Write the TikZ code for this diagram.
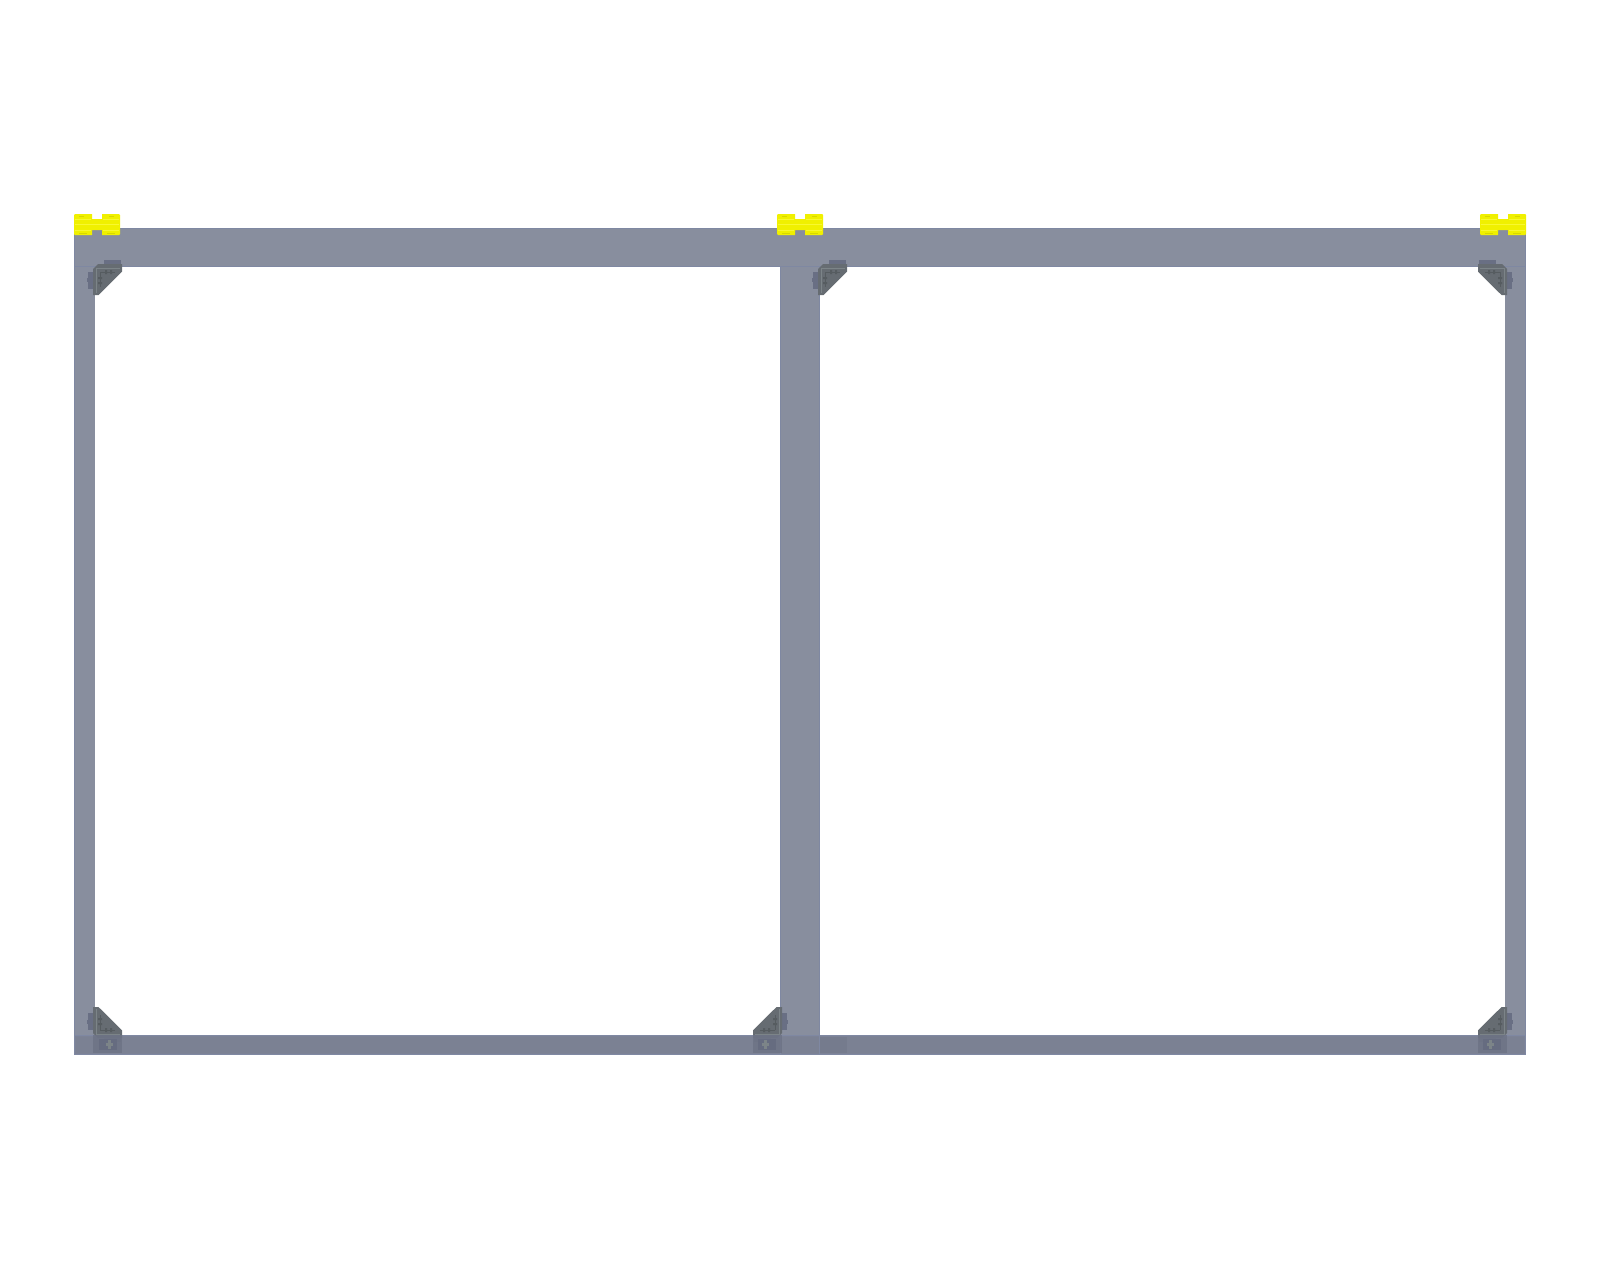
\documentclass[tikz,border=0pt]{standalone}
\definecolor{barfill}{HTML}{888E9E}
\definecolor{baredge}{HTML}{7F88A2}
\definecolor{lowbar}{HTML}{7C8296}
\definecolor{lowin}{HTML}{7B8193}
\definecolor{gusset}{HTML}{666C72}
\definecolor{gussetb}{HTML}{696F84}
\definecolor{gussetl}{HTML}{7C8488}
\definecolor{gussetd}{HTML}{565C60}
\definecolor{blockd}{HTML}{666C80}
\definecolor{blockm}{HTML}{6E7486}
\definecolor{yel}{HTML}{F0F000}
\definecolor{yeld}{HTML}{D8D800}
\definecolor{yell}{HTML}{F8F830}
\tikzset{
 x=0.5pt,y=-0.5pt,
 bar/.style={fill=barfill,draw=none},
 edge/.style={draw=baredge,line width=0.8pt},
 gbody/.style={fill=gusset,draw=none},
 gtab/.style={fill=gussetb,draw=none},
 gline/.style={draw=gussetl,line width=0.5pt},
 pics/gussetpic/.style={code={
   \fill[gtab] (9,-7) rectangle (26,0);
   \fill[gtab] (-7,5) rectangle (-2,22);
   \fill[gtab] (-8,11) rectangle (-6,15);
   \fill[gbody] (-2,2) -- (3,-3) -- (27,-3) -- (27,4.7) -- (3.5,28) -- (-2,28) -- cycle;
   \draw[gline] (1,26) -- (1,1) -- (25,1);
   \draw[gussetd,line width=0.4pt] (5,5) -- (20,5) (5,5) -- (5,20);
   \fill[gussetd] (10,3) rectangle (12,7) (15,3) rectangle (17,7) (3,10) rectangle (7,12) (3,15) rectangle (7,17);
 }},
 pics/footpic/.style={code={
   \fill[blockm,fill opacity=.85] (-2,0) rectangle (27,18);
   \fill[blockd] (4,4) rectangle (22,15);
   \fill[gussetl] (13,5) rectangle (16,14);
   \fill[gussetl] (11,8) rectangle (18,11);
 }},
 pics/clip/.style={code={
   \fill[yel] (1,0) -- (18,0) -- (18,5) -- (28,5) -- (28,0) -- (45,0) -- (46,1) -- (46,20) -- (45,21) -- (28,21) -- (28,16) -- (18,16) -- (18,21) -- (1,21) -- (0,20) -- (0,1) -- cycle;
   \draw[yell,line width=0.5pt] (1,10) -- (45,10);
   \draw[yell,line width=0.4pt] (1,5) -- (17,5) (29,5) -- (45,5) (1,16) -- (17,16) (29,16) -- (45,16);
   \draw[yeld,line width=0.5pt] (5,2) -- (10,2) (35,2) -- (40,2) (5,19) -- (13,19) (33,19) -- (41,19);
 }}
}
\begin{document}
\begin{tikzpicture}
\useasboundingbox (0,0) rectangle (1600,1269);
% posts
\fill[bar] (74,267) rectangle (95,1035);
\fill[bar] (780,267) rectangle (820,1035);
\fill[bar] (1505,267) rectangle (1526,1035);
\draw[edge] (74.5,267) -- (74.5,1035) (1525.5,267) -- (1525.5,1035);
\draw[edge] (780.5,267) -- (780.5,1035) (819.5,267) -- (819.5,1035);
% top rail
\fill[bar] (74,228) rectangle (1526,267);
\draw[edge] (74,228.5) -- (1526,228.5) (95,266.5) -- (780,266.5) (820,266.5) -- (1505,266.5);
\draw[edge] (74.5,228) -- (74.5,267) (1525.5,228) -- (1525.5,267);
\draw[edge,line width=0.5pt] (74,266.5) -- (95,266.5) (780,266) -- (820,266) (1505,266.5) -- (1526,266.5);
% bottom rail
\fill[lowbar] (74,1035) rectangle (1526,1055);
\fill[lowin] (76,1037) rectangle (1524,1053);
\draw[edge] (74,1035.5) -- (1526,1035.5) (74,1054.5) -- (1526,1054.5) (74.5,1035) -- (74.5,1055) (1525.5,1035) -- (1525.5,1055);
\draw[edge,line width=0.5pt] (780.5,1035) -- (780.5,1055) (819.5,1035) -- (819.5,1055);
\fill[blockm,fill opacity=.45] (820,1037) rectangle (847,1053);
% gussets
\pic at (95,267) {gussetpic};
\pic at (820,267) {gussetpic};
\pic[xscale=-1] at (1505,267) {gussetpic};
\pic[yscale=-1] at (95,1035) {gussetpic};
\pic[xscale=-1,yscale=-1] at (780,1035) {gussetpic};
\pic[xscale=-1,yscale=-1] at (1505,1035) {gussetpic};
\pic at (95,1035) {footpic};
\pic[xscale=-1] at (780,1035) {footpic};
\pic[xscale=-1] at (1505,1035) {footpic};
% yellow clips
\pic at (74,214) {clip};
\pic at (777,214) {clip};
\pic at (1480,214) {clip};
\end{tikzpicture}
\end{document}
